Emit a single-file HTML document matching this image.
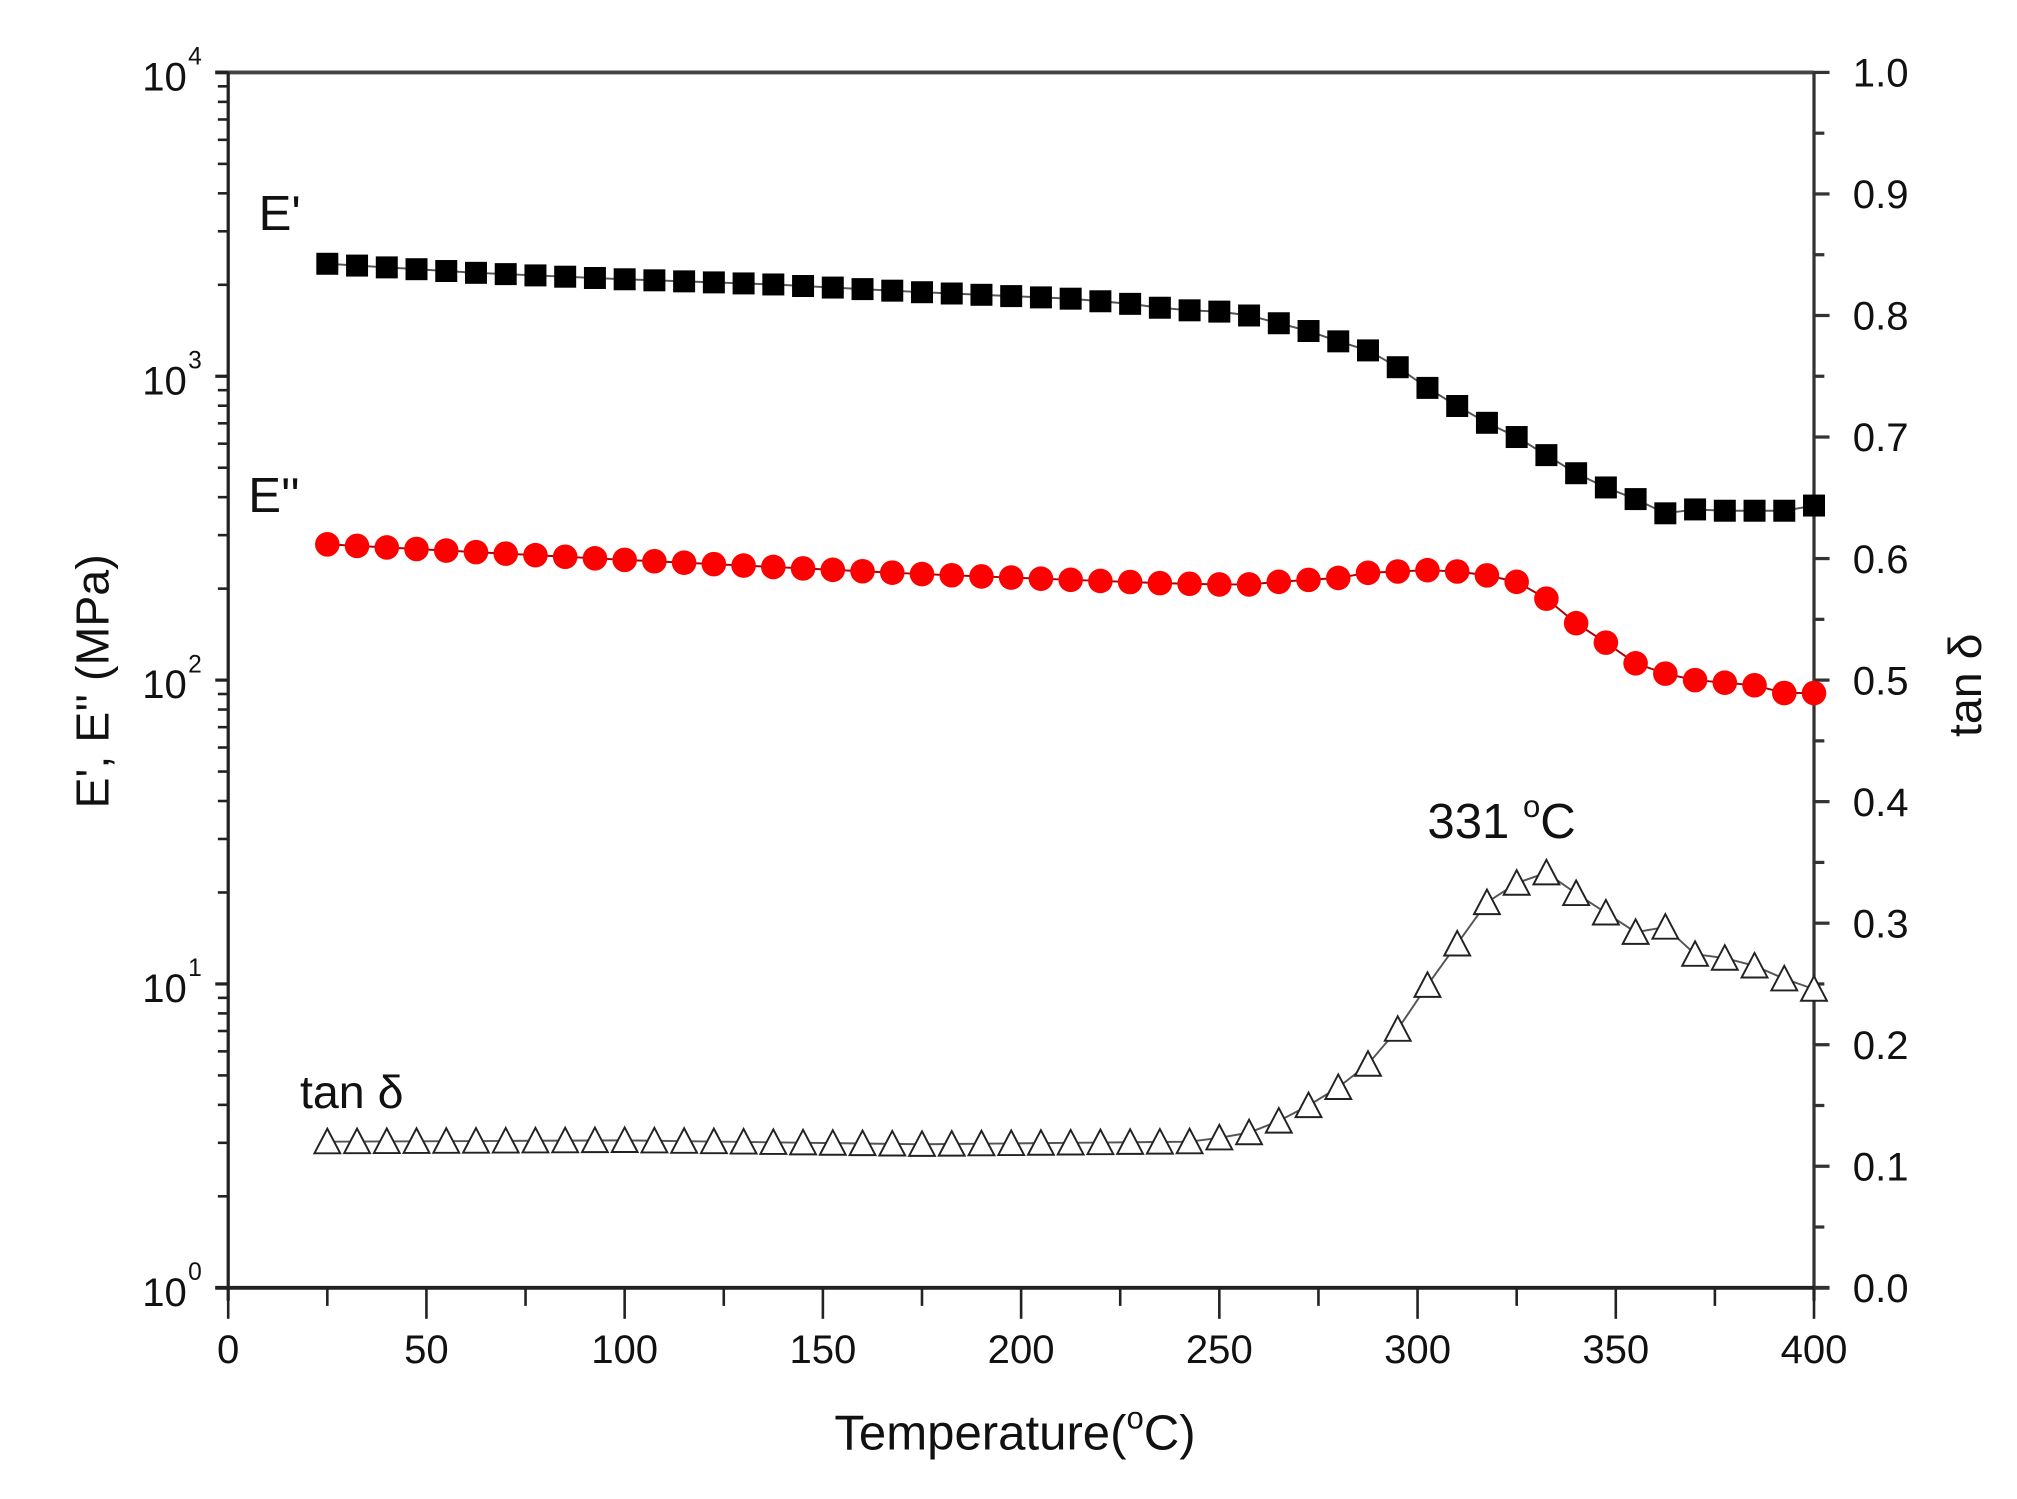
<!DOCTYPE html>
<html><head><meta charset="utf-8"><style>
html,body{margin:0;padding:0;background:#fff;}
svg{display:block;}
text{font-family:"Liberation Sans",Arial,sans-serif;fill:#111;}
</style></head><body>
<svg id="s" width="2017" height="1499" viewBox="0 0 1560 1159.35" xmlns="http://www.w3.org/2000/svg">
<g id="g"></g>
<text x="200" y="178" font-size="38">E'</text>
<text x="192" y="396" font-size="38">E''</text>
<text x="232" y="857" font-size="36">tan δ</text>
<text x="1104" y="648" font-size="38">331 <tspan dy="-16" font-size="24">o</tspan><tspan dy="16">C</tspan></text>
<text x="785" y="1121" font-size="38" text-anchor="middle">Temperature(<tspan dy="-16" font-size="24">o</tspan><tspan dy="16">C)</tspan></text>
<text transform="translate(84,527) rotate(-90)" font-size="36" text-anchor="middle">E', E'' (MPa)</text>
<text transform="translate(1532,530) rotate(-90)" font-size="36" text-anchor="middle">tan δ</text>
</svg>
<script>
var L=176.5,R=1403,T=56,B=996,D=(B-T)/4;
var g=document.getElementById('g'),h='';
function X(t){return L+(R-L)*t/400;}
h+='<line x1="'+(L-10)+'" y1="'+T+'" x2="'+R+'" y2="'+T+'" stroke="#444" stroke-width="3"/>';
h+='<line x1="'+L+'" y1="'+T+'" x2="'+L+'" y2="'+(B+10)+'" stroke="#222" stroke-width="2.5"/>';
h+='<line x1="'+R+'" y1="'+T+'" x2="'+R+'" y2="'+(B+10)+'" stroke="#333" stroke-width="2.5"/>';
h+='<line x1="'+(L-10)+'" y1="'+B+'" x2="'+(R+12)+'" y2="'+B+'" stroke="#222" stroke-width="3"/>';
for(var t=0;t<=400;t+=25){var maj=t%50==0,x=X(t);
h+='<line x1="'+x+'" y1="'+B+'" x2="'+x+'" y2="'+(B+(maj?24:14))+'" stroke="#222" stroke-width="2"/>';
if(maj)h+='<text x="'+x+'" y="'+(B+58)+'" font-size="31" text-anchor="middle">'+t+'</text>';}
for(var d=0;d<=4;d++){var y=B-d*D;
h+='<line x1="'+(L-10)+'" y1="'+y+'" x2="'+L+'" y2="'+y+'" stroke="#222" stroke-width="2.5"/>';
h+='<text x="'+(L-32)+'" y="'+(y+14)+'" font-size="31" text-anchor="end">10</text><text x="'+(L-31)+'" y="'+(y-6)+'" font-size="19">'+d+'</text>';
if(d<4)for(var m=2;m<=9;m++){var yy=y-D*Math.log10(m);h+='<line x1="'+(L-8)+'" y1="'+yy+'" x2="'+L+'" y2="'+yy+'" stroke="#222" stroke-width="2"/>';}}
for(var k=0;k<=20;k++){var v=k*0.05,y=B-(B-T)*v,maj=k%2==0;
h+='<line x1="'+R+'" y1="'+y+'" x2="'+(R+(maj?12:8))+'" y2="'+y+'" stroke="#333" stroke-width="2.5"/>';
if(maj)h+='<text x="'+(R+30)+'" y="'+(y+11)+'" font-size="31">'+v.toFixed(1)+'</text>';}
function interp(pts,t){for(var i=0;i<pts.length-1;i++){if(t>=pts[i][0]&&t<=pts[i+1][0]){var f=(t-pts[i][0])/(pts[i+1][0]-pts[i][0]);return pts[i][1]+f*(pts[i+1][1]-pts[i][1]);}}return pts[pts.length-1][1];}
var E1=[[25,204],[62.5,211],[100,216],[137.5,220],[175,226],[212.5,231],[220,233],[227.5,235],[235,238],[242.5,240],[250,241],[257.5,244],[265,250],[272.5,256],[280,264],[287.5,271],[295,284],[302.5,300],[310,314],[317.5,327],[325,338],[332.5,352],[340,366],[347.5,377],[355,386],[362.5,397],[370,394],[377.5,395],[385,395],[392.5,395],[400,391]];
var E2=[[25,421],[100,433],[175,444],[200,447],[235,451],[250,452],[257.5,452],[265,450],[280,447],[287.5,443],[302.5,441],[310,442],[317.5,445],[325,450],[332.5,463],[340,482],[347.5,497],[355,513],[362.5,521],[370,526],[377.5,528],[385,530],[392.5,536],[400,536]];
var TD=[[25,883],[100,882],[175,885],[242.5,883],[250,880],[257.5,876],[265,867],[272.5,855],[280,841],[287.5,823],[295,796],[302.5,762],[310,730],[317.5,698],[325,683],[332.5,675],[340,691],[347.5,706],[355,721],[362.5,717],[370,738],[377.5,741],[385,747],[392.5,757],[400,765]];
var p1='',p2='',p3='',m1='',m2='',m3='';
for(var i=0;i<=50;i++){var t=25+7.5*i,x=X(t),a=interp(E1,t),b=interp(E2,t),c=interp(TD,t);
p1+=(i?'L':'M')+x+','+a;p2+=(i?'L':'M')+x+','+b;p3+=(i?'L':'M')+x+','+c;
m1+='<rect x="'+(x-8.5)+'" y="'+(a-8.5)+'" width="17" height="17" fill="#000"/>';
m2+='<circle cx="'+x+'" cy="'+b+'" r="9.5" fill="#f00"/>';
m3+='<path d="M'+(x-10)+','+(c+9)+'L'+x+','+(c-10)+'L'+(x+10)+','+(c+9)+'Z" fill="#fff" stroke="#222" stroke-width="1.5"/>';}
h+='<path d="'+p1+'" fill="none" stroke="#555" stroke-width="1.5"/>'+m1;
h+='<path d="'+p2+'" fill="none" stroke="#a00" stroke-width="1.5"/>'+m2;
h+='<path d="'+p3+'" fill="none" stroke="#555" stroke-width="1.5"/>'+m3;
g.innerHTML=h;
</script>
</body></html>
